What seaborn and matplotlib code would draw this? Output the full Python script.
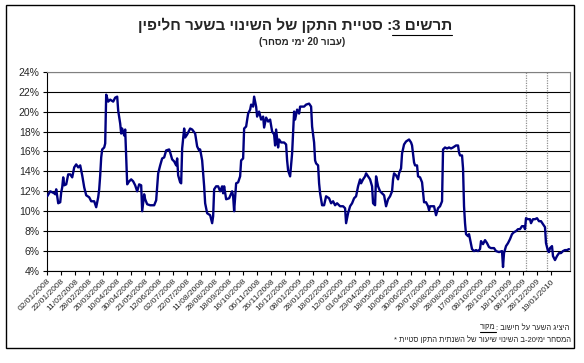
import re
import pandas as pd
import matplotlib
matplotlib.use("Agg")
import matplotlib.pyplot as plt
from matplotlib.lines import Line2D
from matplotlib.patches import Rectangle
import seaborn as sns

# trading-day index (from 02/01/2008) and 20-day std of the exchange-rate change, in %
day = [0, 3, 7, 8, 9, 11, 13, 14, 15, 16, 17, 19, 21, 23, 25, 27, 29, 31, 33, 35,
       37, 39, 42, 44, 47, 49, 51, 52, 53, 54, 55, 57, 58, 59, 61, 63, 66, 68, 70, 71,
       73, 74, 75, 77, 78, 79, 80, 82, 84, 86, 88, 90, 92, 94, 95, 97, 98, 100, 103, 107,
       109, 111, 113, 115, 117, 119, 122, 123, 125, 127, 129, 130, 131, 133, 134, 135, 137, 138, 140, 143,
       145, 148, 150, 152, 153, 155, 157, 158, 160, 163, 165, 166, 167, 169, 171, 173, 175, 176, 177, 179,
       182, 185, 186, 187, 189, 191, 193, 194, 196, 197, 199, 201, 203, 204, 206, 207, 209, 210, 212, 214,
       216, 217, 219, 221, 223, 225, 227, 228, 229, 231, 232, 234, 237, 239, 240, 241, 243, 245, 247, 248,
       250, 252, 253, 255, 257, 259, 262, 264, 265, 267, 268, 269, 271, 272, 273, 275, 277, 279, 282, 284,
       286, 288, 290, 293, 296, 298, 299, 301, 303, 305, 307, 309, 311, 313, 314, 316, 318, 319, 321, 323,
       325, 326, 328, 329, 331, 333, 335, 337, 339, 341, 343, 345, 346, 347, 349, 351, 352, 354, 355, 357,
       359, 362, 364, 365, 367, 368, 370, 371, 373, 375, 377, 379, 381, 382, 383, 385, 387, 389, 391, 393,
       395, 396, 398, 400, 402, 404, 406, 409, 411, 412, 413, 415, 416, 417, 418, 419, 421, 422, 423, 425,
       427, 429, 431, 433, 434, 436, 438, 440, 442, 444, 447, 449, 452, 455, 456, 457, 459, 461, 463, 465,
       467, 469, 471, 473, 475, 477, 478, 479, 481, 483, 484, 486, 488, 490, 492, 494, 496, 498, 499, 501,
       502, 503, 505, 506, 508, 510, 512, 514, 516, 518, 520, 522]
vol = [11.5, 12.0, 11.8, 11.7, 12.2, 10.8, 10.9, 11.9, 12.4, 13.4, 12.6, 12.7, 13.7, 13.7, 13.4, 14.4, 14.7, 14.4, 14.6, 13.6,
       12.4, 11.6, 11.4, 11.0, 11.0, 10.4, 11.4, 12.2, 13.6, 15.4, 16.2, 16.4, 16.8, 21.7, 21.0, 21.2, 21.0, 21.4, 21.5, 20.1,
       18.8, 17.8, 18.3, 17.6, 18.2, 15.4, 12.7, 13.0, 13.2, 13.0, 12.6, 12.0, 12.7, 12.6, 10.0, 11.7, 11.2, 10.7, 10.6, 10.6,
       11.1, 13.8, 14.6, 15.3, 15.4, 16.1, 16.2, 15.9, 15.2, 15.0, 14.6, 15.3, 13.6, 12.9, 12.8, 16.3, 18.3, 17.4, 17.7, 18.3,
       18.2, 17.8, 16.5, 16.1, 16.2, 15.1, 12.5, 10.8, 9.8, 9.6, 8.8, 9.5, 12.2, 12.5, 12.5, 12.0, 12.5, 11.8, 12.5, 11.2,
       11.3, 12.0, 11.5, 10.0, 12.8, 12.9, 13.5, 15.1, 15.3, 18.3, 18.5, 19.8, 20.2, 20.7, 20.5, 21.5, 20.5, 19.5, 20.0, 19.2,
       19.5, 18.4, 19.4, 19.0, 19.2, 18.0, 17.7, 16.6, 18.2, 16.4, 17.2, 16.9, 16.9, 16.7, 15.1, 14.1, 13.5, 15.8, 20.0, 19.2,
       20.2, 19.8, 20.5, 20.5, 20.5, 20.7, 20.8, 20.5, 18.5, 16.9, 15.1, 14.8, 14.6, 12.8, 11.8, 10.6, 10.6, 11.5, 11.3, 10.8,
       11.0, 10.6, 10.8, 10.5, 10.5, 10.3, 8.8, 9.8, 10.5, 10.8, 11.3, 11.5, 12.5, 13.2, 12.8, 13.2, 13.5, 13.8, 13.5, 13.2,
       12.5, 10.8, 10.6, 13.5, 12.5, 12.0, 11.8, 11.6, 10.5, 11.2, 11.5, 12.0, 13.2, 13.8, 13.6, 13.2, 13.8, 14.3, 15.8, 16.7,
       17.0, 17.2, 16.9, 16.6, 14.9, 14.6, 14.6, 13.5, 13.4, 12.9, 10.9, 10.9, 10.5, 10.1, 10.5, 10.5, 10.5, 9.6, 10.3, 10.5,
       11.0, 16.2, 16.4, 16.3, 16.4, 16.3, 16.4, 16.6, 16.6, 15.9, 15.6, 15.6, 14.3, 10.5, 8.8, 7.7, 7.5, 7.7, 7.2, 6.2,
       6.0, 6.1, 6.0, 6.2, 7.0, 6.7, 7.1, 6.8, 6.4, 6.3, 6.3, 6.0, 5.9, 6.0, 4.4, 5.8, 6.5, 6.8, 7.2, 7.7,
       7.9, 8.0, 8.2, 8.2, 8.5, 8.5, 8.2, 9.3, 9.2, 9.2, 8.8, 9.2, 9.2, 9.3, 9.0, 9.0, 8.7, 8.4, 6.8, 6.0,
       5.9, 6.3, 6.5, 5.5, 5.1, 5.5, 5.8, 5.8, 6.0, 6.1, 6.1, 6.2]

date_labels = ["02/01/2008", "22/01/2008", "11/02/2008", "28/02/2008", "20/03/2008", "10/04/2008",
               "30/04/2008", "21/05/2008", "12/06/2008", "02/07/2008", "22/07/2008", "11/08/2008",
               "28/08/2008", "18/09/2008", "16/10/2008", "06/11/2008", "26/11/2008", "16/12/2008",
               "08/01/2009", "28/01/2009", "18/02/2009", "12/03/2009", "01/04/2009", "23/04/2009",
               "18/05/2009", "10/06/2009", "30/06/2009", "20/07/2009", "10/08/2009", "28/08/2009",
               "17/09/2009", "08/10/2009", "28/10/2009", "18/11/2009", "08/12/2009", "28/12/2009",
               "19/01/2010"]
label_step = 14
marker_days = [479, 500]
y_ticks = [4, 6, 8, 10, 12, 14, 16, 18, 20, 22, 24]


def rtl(s):
    # matplotlib has no bidi: flip to visual order, keep numbers left-to-right
    r = re.sub(r'\d+', lambda m: m.group(0)[::-1], s[::-1])
    return r.translate(str.maketrans('()', ')('))


def rev_words(s):
    return " ".join(w[::-1] for w in s.split())


def underline(t, fig, pad=1.5):
    r = fig.canvas.get_renderer()
    bb = t.get_window_extent(r)
    W, H = fig.bbox.width, fig.bbox.height
    y = (bb.y0 - pad) / H
    fig.add_artist(Line2D([bb.x0 / W, bb.x1 / W], [y, y], transform=fig.transFigure,
                          color='black', lw=0.8))
    return bb


sns.set_style("white")
plt.rcParams['font.family'] = ['Liberation Sans', 'DejaVu Sans']

df = pd.DataFrame({"day": day, "vol": vol})

fig = plt.figure(figsize=(5.84, 3.63), dpi=100)
ax = fig.add_axes([0.080, 0.2534, 0.896, 0.549])

for d in marker_days:
    ax.axvline(d, color='#909090', lw=0.9, ls=(0, (1, 1)), zorder=1)

sns.lineplot(data=df, x="day", y="vol", ax=ax, color='#000080', lw=1.7,
             estimator=None, sort=False, zorder=3)

ax.set_xlim(-0.5, 523)
ax.set_ylim(4, 24)
ax.set_yticks(y_ticks)
ax.set_yticklabels([f"{v}%" for v in y_ticks], fontsize=7.5)
ax.set_xticks(range(0, label_step * len(date_labels), label_step))
ax.set_xticklabels(date_labels, rotation=45, ha='right', rotation_mode='anchor', fontsize=6)
ax.set_xlabel("")
ax.set_ylabel("")
ax.yaxis.grid(True, color='black', lw=0.8)
ax.xaxis.grid(False)
ax.tick_params(axis='both', direction='out', length=3, width=0.8, color='black', pad=2, bottom=True, left=True)
for side in ['left', 'bottom']:
    ax.spines[side].set_color('black')
    ax.spines[side].set_linewidth(0.8)
for side in ['top', 'right']:
    ax.spines[side].set_color('#808080')
    ax.spines[side].set_linewidth(0.8)

W, H = 584, 363

# title: "תרשים 3" underlined, the rest to its left
t1 = fig.text(452 / W, 1 - 30 / H, rtl("תרשים 3"), ha='right', va='baseline',
              fontsize=11, fontweight='bold')
bb = underline(t1, fig)
fig.text(bb.x0 / W, 1 - 30 / H, rtl(": סטיית התקן של השינוי בשער חליפין"), ha='right',
         va='baseline', fontsize=11, fontweight='bold')
fig.text(302 / W, 1 - 42 / H, rtl("(עבור 20 ימי מסחר)"), ha='center', va='center',
         fontsize=7, fontweight='bold')

# footnotes
f2 = fig.text(569 / W, 1 - 328 / H, ": " + rev_words("חישוב על השער היציג"), ha='right',
              va='center', fontsize=5.5)
bb2 = f2.get_window_extent(fig.canvas.get_renderer())
f1 = fig.text(bb2.x0 / W, 1 - 328 / H, "מקור"[::-1], ha='right', va='center', fontsize=5.5)
underline(f1, fig, pad=0.5)
fig.text(571 / W, 1 - 340 / H,
         "* " + rev_words("סטיית התקן השנתית של שיעור השינוי") + " ב-20" + rev_words("ימי המסחר"),
         ha='right', va='center', fontsize=5.5)

# chart area frame
fig.add_artist(Rectangle((6 / W, 1 - 348 / H), 568 / W, 343 / H, fill=False,
                         edgecolor='black', lw=1.0, transform=fig.transFigure))

fig.savefig("out.png", dpi=100)
